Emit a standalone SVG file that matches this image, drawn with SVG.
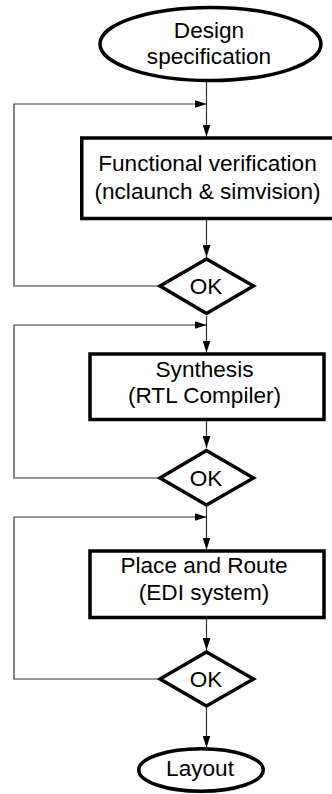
<svg xmlns="http://www.w3.org/2000/svg" width="332" height="794" viewBox="0 0 332 794">
  <defs>
    <marker id="arrow" markerUnits="userSpaceOnUse" markerWidth="12" markerHeight="8" refX="12" refY="4" orient="auto">
      <path d="M0,0 L12,4 L0,8 z" fill="#000"/>
    </marker>
    <style>
      .shape { fill: #fff; stroke: #000; stroke-width: 3.5; }
      .label { font-family: "Liberation Sans", Arial, sans-serif; font-size: 22.6px; fill: #000; text-anchor: middle; }
      .conn { fill: none; stroke: #333; stroke-width: 1.2; }
      .arr { marker-end: url(#arrow); }
    </style>
  </defs>
  <rect width="332" height="794" fill="#fff"/>

  <!-- connectors -->
  <g id="connectors">
    <!-- main flow -->
    <line class="conn arr" x1="206.5" y1="82" x2="206.5" y2="136.5"/>
    <line class="conn arr" x1="206.5" y1="220" x2="206.5" y2="257"/>
    <line class="conn arr" x1="206.5" y1="316" x2="206.5" y2="352.5"/>
    <line class="conn arr" x1="206.5" y1="421" x2="206.5" y2="448"/>
    <line class="conn arr" x1="206.5" y1="507" x2="206.5" y2="549.5"/>
    <line class="conn arr" x1="206.5" y1="619" x2="206.5" y2="650"/>
    <line class="conn arr" x1="206.5" y1="708" x2="206.5" y2="747.5"/>
    <!-- retry loops -->
    <polyline class="conn arr" points="157,286 14,286 14,104 206.5,104"/>
    <polyline class="conn arr" points="157,478 14,478 14,325 206.5,325"/>
    <polyline class="conn arr" points="157,679 14,679 14,517 206.5,517"/>
  </g>

  <g id="design-spec">
    <ellipse class="shape" cx="210.5" cy="44" rx="110.5" ry="36.5"/>
    <text class="label" x="209" y="37.5">Design</text>
    <text class="label" x="209" y="63.5">specification</text>
  </g>

  <g id="functional-verification">
    <rect class="shape" x="81.75" y="138" width="256" height="80.5"/>
    <text class="label" x="207.5" y="171">Functional verification</text>
    <text class="label" x="207.5" y="199">(nclaunch &amp; simvision)</text>
  </g>

  <g id="ok-1">
    <polygon class="shape" points="206.5,259 253.5,286 206.5,313.5 160,286"/>
    <text class="label" x="206" y="294">OK</text>
  </g>

  <g id="synthesis">
    <rect class="shape" x="90" y="354" width="234" height="65.5"/>
    <text class="label" x="204.5" y="377">Synthesis</text>
    <text class="label" x="204.5" y="403">(RTL Compiler)</text>
  </g>

  <g id="ok-2">
    <polygon class="shape" points="206.5,450.5 253.5,478 206.5,505 160,478"/>
    <text class="label" x="206" y="486">OK</text>
  </g>

  <g id="place-and-route">
    <rect class="shape" x="90" y="551" width="234" height="66.5"/>
    <text class="label" x="204" y="573">Place and Route</text>
    <text class="label" x="204" y="600">(EDI system)</text>
  </g>

  <g id="ok-3">
    <polygon class="shape" points="206.5,652 253.5,679 206.5,706 160,679"/>
    <text class="label" x="206" y="687">OK</text>
  </g>

  <g id="layout">
    <ellipse class="shape" cx="201" cy="770" rx="62.25" ry="21.25"/>
    <text class="label" x="200" y="775.5">Layout</text>
  </g>
</svg>
